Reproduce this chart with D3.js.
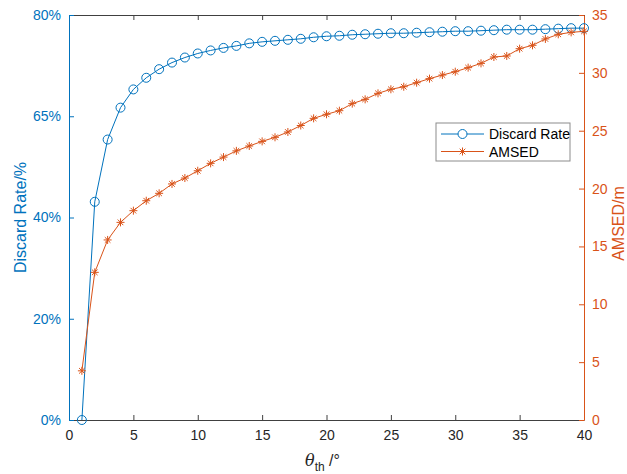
<!DOCTYPE html>
<html>
<head>
<meta charset="utf-8">
<script src="https://cdn.jsdelivr.net/npm/d3@7"></script>
<style>
    body { margin: 0; background: #fff; }
    text { font-family: "Liberation Sans", Arial, sans-serif; }
</style>
</head>
<body>
<div id="chart"></div>
<script>
// Data
var theta = d3.range(1, 41);
var discardRate = [0, 43.1, 55.4, 61.7, 65.3, 67.6, 69.3, 70.6, 71.6, 72.4,
    73.0, 73.5, 73.9, 74.4, 74.7, 74.9, 75.1, 75.3, 75.6, 75.8,
    75.9, 76.1, 76.2, 76.3, 76.4, 76.4, 76.5, 76.6, 76.7, 76.8,
    76.8, 76.9, 77.0, 77.1, 77.1, 77.1, 77.2, 77.3, 77.4, 77.4];
var amsed = [4.25, 12.76, 15.56, 17.08, 18.09, 18.95, 19.59, 20.4, 20.91, 21.54,
    22.18, 22.72, 23.26, 23.68, 24.08, 24.43, 24.89, 25.45, 26.07, 26.42,
    26.73, 27.34, 27.71, 28.23, 28.58, 28.8, 29.15, 29.5, 29.81, 30.1,
    30.45, 30.82, 31.37, 31.46, 32.09, 32.38, 32.93, 33.33, 33.5, 33.59];
var xTicks = [0, 5, 10, 15, 20, 25, 30, 35, 40];
var leftTicks = [0, 20, 40, 60, 80];
var leftTickLabels = ["0%", "20%", "40%", "65%", "80%"];
var rightTicks = [0, 5, 10, 15, 20, 25, 30, 35];

var blue = "#0072BD";
var orange = "#D95319";
var axisGray = "#404040";

var svgWidth = 627;
var svgHeight = 474;
var margin = { top: 15, right: 43, bottom: 54, left: 69 };
var width = svgWidth - margin.left - margin.right;
var height = svgHeight - margin.top - margin.bottom;

var svg = d3.select("#chart")
    .append("svg")
    .attr("width", svgWidth)
    .attr("height", svgHeight);

var chartGroup = svg.append("g")
    .attr("transform", `translate(${margin.left}, ${margin.top})`);

var xScale = d3.scaleLinear().domain([0, 40]).range([0, width]);
var yLeft = d3.scaleLinear().domain([0, 80]).range([height, 0]);
var yRight = d3.scaleLinear().domain([0, 35]).range([height, 0]);

function styleAxis(g, color) {
    g.select(".domain").attr("stroke", color).attr("stroke-width", 1);
    g.selectAll(".tick line").attr("stroke", color);
    g.selectAll(".tick text")
        .attr("fill", color)
        .attr("font-size", 14)
        .attr("font-family", "'Liberation Sans', Arial, sans-serif");
}

// Bottom axis (ticks inside)
var bottomAxis = chartGroup.append("g")
    .attr("transform", `translate(0, ${height})`)
    .call(d3.axisBottom(xScale).tickValues(xTicks).tickSizeInner(-5).tickSizeOuter(0).tickPadding(10));
styleAxis(bottomAxis, "#262626");
bottomAxis.select(".domain").attr("stroke", axisGray);
bottomAxis.selectAll(".tick line").attr("stroke", axisGray);

// Top axis (box)
var topAxis = chartGroup.append("g")
    .call(d3.axisTop(xScale).tickValues(xTicks).tickSizeInner(-5).tickSizeOuter(0).tickFormat(""));
topAxis.select(".domain").attr("stroke", axisGray);
topAxis.selectAll(".tick line").attr("stroke", axisGray);

// Left axis
var leftAxis = chartGroup.append("g")
    .call(d3.axisLeft(yLeft).tickValues(leftTicks)
        .tickFormat((d, i) => leftTickLabels[i])
        .tickSizeInner(-5).tickSizeOuter(0).tickPadding(8));
styleAxis(leftAxis, blue);

// Right axis
var rightAxis = chartGroup.append("g")
    .attr("transform", `translate(${width}, 0)`)
    .call(d3.axisRight(yRight).tickValues(rightTicks)
        .tickSizeInner(-5).tickSizeOuter(0).tickPadding(8));
styleAxis(rightAxis, orange);

// Axis labels
chartGroup.append("text")
    .attr("transform", "rotate(-90)")
    .attr("x", -height / 2)
    .attr("y", -43)
    .attr("text-anchor", "middle")
    .attr("font-size", 16)
    .attr("fill", blue)
    .text("Discard Rate/%");

chartGroup.append("text")
    .attr("transform", "rotate(-90)")
    .attr("x", -height / 2 - 6)
    .attr("y", width + 40)
    .attr("text-anchor", "middle")
    .attr("font-size", 16)
    .attr("fill", orange)
    .text("AMSED/m");

var xLabel = chartGroup.append("text")
    .attr("x", width / 2 - 4)
    .attr("y", height + 46)
    .attr("text-anchor", "middle")
    .attr("font-size", 16)
    .attr("fill", "#262626");
xLabel.append("tspan")
    .attr("font-style", "italic")
    .attr("font-family", "'DejaVu Serif', 'Liberation Serif', serif")
    .text("θ");
xLabel.append("tspan")
    .attr("font-size", 12)
    .attr("dy", 5)
    .text("th");
xLabel.append("tspan")
    .attr("dy", -5)
    .text(" /°");

// Discard rate series
var lineLeft = d3.line()
    .x((d, i) => xScale(theta[i]))
    .y(d => yLeft(d));

chartGroup.append("path")
    .datum(discardRate)
    .attr("fill", "none")
    .attr("stroke", blue)
    .attr("stroke-width", 1)
    .attr("d", lineLeft);

chartGroup.selectAll("circle.dr")
    .data(discardRate)
    .enter()
    .append("circle")
    .classed("dr", true)
    .attr("cx", (d, i) => xScale(theta[i]))
    .attr("cy", d => yLeft(d))
    .attr("r", 4.5)
    .attr("fill", "none")
    .attr("stroke", blue)
    .attr("stroke-width", 1);

// AMSED series
var lineRight = d3.line()
    .x((d, i) => xScale(theta[i]))
    .y(d => yRight(d));

chartGroup.append("path")
    .datum(amsed)
    .attr("fill", "none")
    .attr("stroke", orange)
    .attr("stroke-width", 1)
    .attr("d", lineRight);

// asterisk marker, like MATLAB's '*'
function drawStar(g, x, y) {
    var s = 4;
    var d = `M${x - s},${y}L${x + s},${y}M${x},${y - s}L${x},${y + s}` +
        `M${x - s * 0.7},${y - s * 0.7}L${x + s * 0.7},${y + s * 0.7}` +
        `M${x - s * 0.7},${y + s * 0.7}L${x + s * 0.7},${y - s * 0.7}`;
    g.append("path")
        .attr("d", d)
        .attr("stroke", orange)
        .attr("stroke-width", 1)
        .attr("fill", "none");
}

var stars = chartGroup.append("g");
amsed.forEach(function (d, i) {
    drawStar(stars, xScale(theta[i]), yRight(d));
});

// Legend
var legend = svg.append("g")
    .attr("transform", "translate(436, 123)");

legend.append("rect")
    .attr("width", 134)
    .attr("height", 38)
    .attr("fill", "#fff")
    .attr("stroke", "#8c8c8c")
    .attr("stroke-width", 1);

legend.append("line")
    .attr("x1", 5).attr("x2", 48)
    .attr("y1", 11).attr("y2", 11)
    .attr("stroke", blue);
legend.append("circle")
    .attr("cx", 26.5).attr("cy", 11).attr("r", 4.5)
    .attr("fill", "#fff").attr("stroke", blue);
legend.append("text")
    .attr("x", 53).attr("y", 16)
    .attr("font-size", 14)
    .attr("fill", "#000")
    .text("Discard Rate");

legend.append("line")
    .attr("x1", 5).attr("x2", 48)
    .attr("y1", 28.5).attr("y2", 28.5)
    .attr("stroke", orange);
drawStar(legend, 26.5, 28.5);
legend.append("text")
    .attr("x", 53).attr("y", 33.5)
    .attr("font-size", 14)
    .attr("fill", "#000")
    .text("AMSED");
</script>
</body>
</html>
